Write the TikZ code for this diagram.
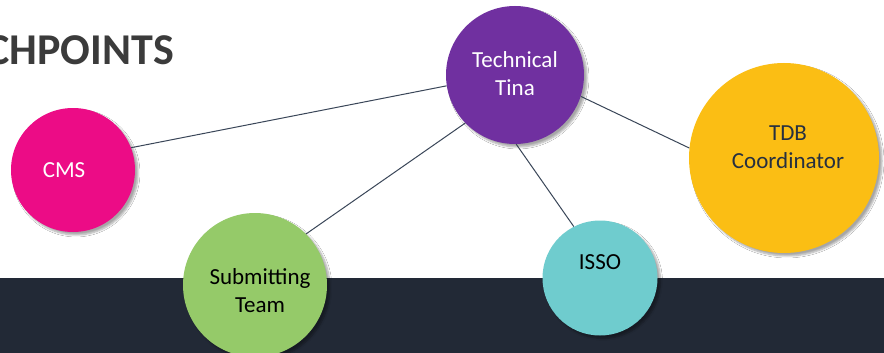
\documentclass[tikz,border=0pt]{standalone}
\usepackage{fontspec}
\setmainfont{Carlito}
\usetikzlibrary{shadows.blur}
\definecolor{tinaC}{HTML}{7030A0}
\definecolor{cmsC}{HTML}{EC0C86}
\definecolor{tdbC}{HTML}{FBBE14}
\definecolor{subC}{HTML}{95CA69}
\definecolor{issoC}{HTML}{6FCCCE}
\definecolor{bandC}{HTML}{222936}
\definecolor{lineC}{HTML}{3A4658}
\definecolor{titleC}{HTML}{3B3B3B}
\definecolor{tdbText}{HTML}{263040}
\tikzset{
  bubble/.style={circle, inner sep=0pt, draw=none,
    blur shadow={shadow xshift=3pt, shadow yshift=-3pt, shadow blur steps=6, shadow opacity=35}},
  btext/.style={align=center, font=\fontsize{23}{28}\selectfont, inner sep=0pt},
  link/.style={draw=lineC, line width=1pt}
}
\begin{document}
\begin{tikzpicture}[x=1pt,y=-1pt]
\useasboundingbox (0,0) rectangle (884,353);
\fill[white] (0,0) rectangle (884,353);
\fill[bandC] (0,278) rectangle (884,353);
\node[anchor=base east, font=\fontsize{44}{50}\selectfont\bfseries, text=titleC, inner sep=0pt] (title) at (174,65) {CHPOINTS};
% circles
\node[bubble, fill=tinaC, minimum size=138pt] (tina) at (515,75) {};
\node[bubble, fill=cmsC, minimum size=124pt] (cms) at (73,170) {};
\node[bubble, fill=tdbC, minimum size=190pt] (tdb) at (784,158) {};
\node[bubble, fill=subC, minimum size=144pt] (sub) at (255,285) {};
\node[bubble, fill=issoC, minimum size=115pt] (isso) at (600,278) {};
% connectors
\draw[link] (cms.21) -- (tina.189);
\draw[link] (tina.224) -- (sub.45);
\draw[link] (tina.271) -- (isso.117);
\draw[link] (tina.-18) -- (tdb.174);
% texts
\node[btext, text=white] (tinaT) at (515,74) {Technical\\Tina};
\node[btext, text=white] (cmsT) at (64,170) {CMS};
\node[btext, text=tdbText] (tdbT) at (788,147) {TDB\\Coordinator};
\node[btext, text=black] (subT) at (260,291) {Submitting\\Team};
\node[btext, text=black] (issoT) at (600,262) {ISSO};
\end{tikzpicture}
\end{document}
